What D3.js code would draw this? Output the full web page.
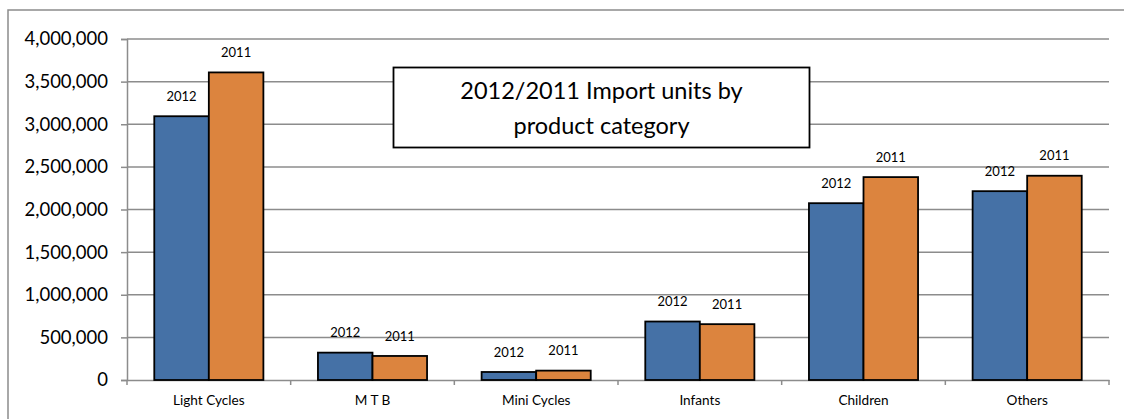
<!DOCTYPE html>
<html><head><meta charset="utf-8">
<script src="https://cdn.jsdelivr.net/npm/d3@7"></script>
<style>html,body{margin:0;background:#fff;overflow:hidden}svg{display:block}text{font-family:Lato,"Open Sans",sans-serif}</style>
</head><body>
<script>
const categories = ["Light Cycles","M T B","Mini Cycles","Infants","Children","Others"];
const series = ["2012","2011"];
const values2012 = [3094000,321000,94000,686000,2074000,2215000];
const values2011 = [3608000,282000,110000,655000,2380000,2396000];
const yTicks = [0,500000,1000000,1500000,2000000,2500000,3000000,3500000,4000000];
const titleLines = ["2012/2011 Import units by","product category"];
const colors = ["#4571A6","#DC843E"];

const W=1124,H=419;
const svg=d3.select("body").append("svg").attr("width",W).attr("height",H).style("overflow","hidden");
svg.append("rect").attr("x",8).attr("y",10).attr("width",1130).attr("height",430)
  .attr("fill","#fff").attr("stroke","#8c8c8c").attr("stroke-width",1.5);

const x0=127,x1=1109,yTop=39,yBot=380;
const x=d3.scaleBand().domain(categories).range([x0,x1]).paddingInner(1/3).paddingOuter(1/6);
const xs=d3.scaleBand().domain(series).range([0,x.bandwidth()]);
const y=d3.scaleLinear().domain([0,4000000]).range([yBot,yTop]);

// gridlines
svg.append("g").selectAll("line").data(yTicks.slice(1)).join("line")
  .attr("x1",x0).attr("x2",x1).attr("y1",d=>y(d)).attr("y2",d=>y(d))
  .attr("stroke","#8c8c8c").attr("stroke-width",1.5);

// y axis
const ya=svg.append("g").attr("transform",`translate(${x0},0)`)
  .call(d3.axisLeft(y).tickValues(yTicks).tickFormat(d3.format(",")).tickSize(6).tickPadding(13));
ya.select(".domain").attr("stroke","#8c8c8c").attr("stroke-width",1.5);
ya.selectAll(".tick line").attr("stroke","#8c8c8c").attr("stroke-width",1.5);
ya.selectAll("text").attr("font-size","18.5px").attr("fill","#000").attr("font-family","Lato");

// x axis
const xa=svg.append("g").attr("transform",`translate(0,${yBot})`)
  .call(d3.axisBottom(x).tickSize(0).tickPadding(15));
xa.select(".domain").attr("stroke","#8c8c8c").attr("stroke-width",1.5);
xa.selectAll("text").attr("font-size","13.6px").attr("fill","#000").attr("font-family","Lato");
const step=x.step();
svg.append("g").selectAll("line").data(d3.range(categories.length+1)).join("line")
  .attr("x1",i=>x0+i*step).attr("x2",i=>x0+i*step).attr("y1",yBot).attr("y2",yBot+5)
  .attr("stroke","#8c8c8c").attr("stroke-width",1.5);

// bars
const rows=categories.map((c,i)=>({c,vals:[values2012[i],values2011[i]]}));
const g=svg.append("g").selectAll("g").data(rows).join("g")
  .attr("transform",d=>`translate(${x(d.c)},0)`);
g.selectAll("rect").data(d=>d.vals.map((v,j)=>({s:series[j],v,j}))).join("rect")
  .attr("x",d=>xs(d.s)).attr("width",xs.bandwidth())
  .attr("y",d=>y(d.v)).attr("height",d=>yBot-y(d.v))
  .attr("fill",d=>colors[d.j]).attr("stroke","#000").attr("stroke-width",1.8);
g.selectAll("text").data(d=>d.vals.map((v,j)=>({s:series[j],v,j}))).join("text")
  .attr("x",d=>xs(d.s)+xs.bandwidth()/2).attr("y",d=>y(d.v)-20)
  .attr("dy","0.35em").attr("text-anchor","middle").attr("font-size","13px").attr("fill","#000")
  .text(d=>d.s);

// title box
svg.append("rect").attr("x",393.5).attr("y",67.5).attr("width",416).attr("height",80)
  .attr("fill","#fff").attr("stroke","#000").attr("stroke-width",1.8);
svg.append("g").selectAll("text").data(titleLines).join("text")
  .attr("x",601.5).attr("y",(d,i)=>91+i*35).attr("dy","0.35em").attr("text-anchor","middle")
  .attr("font-size","23.5px").attr("fill","#000").text(d=>d);
</script>
</body></html>
